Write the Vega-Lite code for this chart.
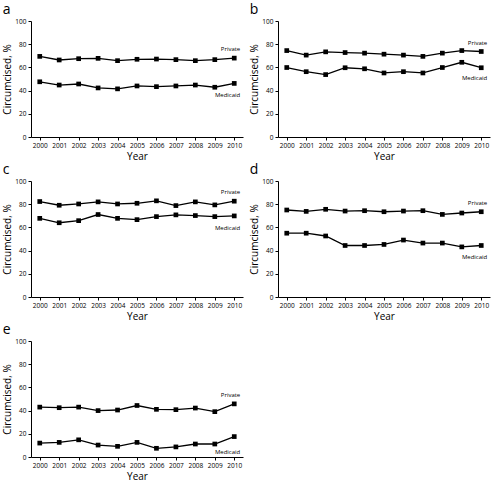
{
  "$schema": "https://vega.github.io/schema/vega-lite/v6.json",
  "padding": {"left": 2, "top": 3, "right": 2, "bottom": 1},
  "background": "white",
  "datasets": {
    "d": [
      {"panel":"a","series":"Private","year":2000,"value":69.5},
      {"panel":"a","series":"Private","year":2001,"value":66.4},
      {"panel":"a","series":"Private","year":2002,"value":67.5},
      {"panel":"a","series":"Private","year":2003,"value":67.8},
      {"panel":"a","series":"Private","year":2004,"value":65.8},
      {"panel":"a","series":"Private","year":2005,"value":67.0},
      {"panel":"a","series":"Private","year":2006,"value":67.2},
      {"panel":"a","series":"Private","year":2007,"value":66.7},
      {"panel":"a","series":"Private","year":2008,"value":65.8},
      {"panel":"a","series":"Private","year":2009,"value":66.7},
      {"panel":"a","series":"Private","year":2010,"value":68.0},
      {"panel":"a","series":"Medicaid","year":2000,"value":47.6},
      {"panel":"a","series":"Medicaid","year":2001,"value":44.8},
      {"panel":"a","series":"Medicaid","year":2002,"value":45.7},
      {"panel":"a","series":"Medicaid","year":2003,"value":42.3},
      {"panel":"a","series":"Medicaid","year":2004,"value":41.5},
      {"panel":"a","series":"Medicaid","year":2005,"value":44.0},
      {"panel":"a","series":"Medicaid","year":2006,"value":43.4},
      {"panel":"a","series":"Medicaid","year":2007,"value":44.0},
      {"panel":"a","series":"Medicaid","year":2008,"value":44.8},
      {"panel":"a","series":"Medicaid","year":2009,"value":42.9},
      {"panel":"a","series":"Medicaid","year":2010,"value":46.2},
      {"panel":"b","series":"Private","year":2000,"value":74.5},
      {"panel":"b","series":"Private","year":2001,"value":70.6},
      {"panel":"b","series":"Private","year":2002,"value":73.4},
      {"panel":"b","series":"Private","year":2003,"value":72.8},
      {"panel":"b","series":"Private","year":2004,"value":72.3},
      {"panel":"b","series":"Private","year":2005,"value":71.4},
      {"panel":"b","series":"Private","year":2006,"value":70.6},
      {"panel":"b","series":"Private","year":2007,"value":69.5},
      {"panel":"b","series":"Private","year":2008,"value":72.3},
      {"panel":"b","series":"Private","year":2009,"value":74.5},
      {"panel":"b","series":"Private","year":2010,"value":73.7},
      {"panel":"b","series":"Medicaid","year":2000,"value":59.9},
      {"panel":"b","series":"Medicaid","year":2001,"value":56.3},
      {"panel":"b","series":"Medicaid","year":2002,"value":53.8},
      {"panel":"b","series":"Medicaid","year":2003,"value":59.7},
      {"panel":"b","series":"Medicaid","year":2004,"value":58.8},
      {"panel":"b","series":"Medicaid","year":2005,"value":55.2},
      {"panel":"b","series":"Medicaid","year":2006,"value":56.3},
      {"panel":"b","series":"Medicaid","year":2007,"value":55.2},
      {"panel":"b","series":"Medicaid","year":2008,"value":59.9},
      {"panel":"b","series":"Medicaid","year":2009,"value":64.4},
      {"panel":"b","series":"Medicaid","year":2010,"value":59.7},
      {"panel":"c","series":"Private","year":2000,"value":82.3},
      {"panel":"c","series":"Private","year":2001,"value":79.1},
      {"panel":"c","series":"Private","year":2002,"value":80.2},
      {"panel":"c","series":"Private","year":2003,"value":82.0},
      {"panel":"c","series":"Private","year":2004,"value":80.2},
      {"panel":"c","series":"Private","year":2005,"value":80.8},
      {"panel":"c","series":"Private","year":2006,"value":82.9},
      {"panel":"c","series":"Private","year":2007,"value":78.8},
      {"panel":"c","series":"Private","year":2008,"value":82.0},
      {"panel":"c","series":"Private","year":2009,"value":79.4},
      {"panel":"c","series":"Private","year":2010,"value":82.6},
      {"panel":"c","series":"Medicaid","year":2000,"value":67.8},
      {"panel":"c","series":"Medicaid","year":2001,"value":64.0},
      {"panel":"c","series":"Medicaid","year":2002,"value":65.8},
      {"panel":"c","series":"Medicaid","year":2003,"value":71.1},
      {"panel":"c","series":"Medicaid","year":2004,"value":67.8},
      {"panel":"c","series":"Medicaid","year":2005,"value":66.7},
      {"panel":"c","series":"Medicaid","year":2006,"value":69.3},
      {"panel":"c","series":"Medicaid","year":2007,"value":70.8},
      {"panel":"c","series":"Medicaid","year":2008,"value":70.2},
      {"panel":"c","series":"Medicaid","year":2009,"value":69.3},
      {"panel":"c","series":"Medicaid","year":2010,"value":69.9},
      {"panel":"d","series":"Private","year":2000,"value":75.0},
      {"panel":"d","series":"Private","year":2001,"value":73.8},
      {"panel":"d","series":"Private","year":2002,"value":75.6},
      {"panel":"d","series":"Private","year":2003,"value":74.1},
      {"panel":"d","series":"Private","year":2004,"value":74.4},
      {"panel":"d","series":"Private","year":2005,"value":73.5},
      {"panel":"d","series":"Private","year":2006,"value":74.1},
      {"panel":"d","series":"Private","year":2007,"value":74.4},
      {"panel":"d","series":"Private","year":2008,"value":71.2},
      {"panel":"d","series":"Private","year":2009,"value":72.4},
      {"panel":"d","series":"Private","year":2010,"value":73.5},
      {"panel":"d","series":"Medicaid","year":2000,"value":55.0},
      {"panel":"d","series":"Medicaid","year":2001,"value":55.0},
      {"panel":"d","series":"Medicaid","year":2002,"value":52.6},
      {"panel":"d","series":"Medicaid","year":2003,"value":44.4},
      {"panel":"d","series":"Medicaid","year":2004,"value":44.4},
      {"panel":"d","series":"Medicaid","year":2005,"value":45.3},
      {"panel":"d","series":"Medicaid","year":2006,"value":49.1},
      {"panel":"d","series":"Medicaid","year":2007,"value":46.5},
      {"panel":"d","series":"Medicaid","year":2008,"value":46.5},
      {"panel":"d","series":"Medicaid","year":2009,"value":43.2},
      {"panel":"d","series":"Medicaid","year":2010,"value":44.4},
      {"panel":"e","series":"Private","year":2000,"value":43.0},
      {"panel":"e","series":"Private","year":2001,"value":42.5},
      {"panel":"e","series":"Private","year":2002,"value":43.0},
      {"panel":"e","series":"Private","year":2003,"value":40.0},
      {"panel":"e","series":"Private","year":2004,"value":40.5},
      {"panel":"e","series":"Private","year":2005,"value":44.4},
      {"panel":"e","series":"Private","year":2006,"value":41.1},
      {"panel":"e","series":"Private","year":2007,"value":40.8},
      {"panel":"e","series":"Private","year":2008,"value":42.2},
      {"panel":"e","series":"Private","year":2009,"value":39.1},
      {"panel":"e","series":"Private","year":2010,"value":45.8},
      {"panel":"e","series":"Medicaid","year":2000,"value":12.0},
      {"panel":"e","series":"Medicaid","year":2001,"value":12.6},
      {"panel":"e","series":"Medicaid","year":2002,"value":14.8},
      {"panel":"e","series":"Medicaid","year":2003,"value":10.3},
      {"panel":"e","series":"Medicaid","year":2004,"value":9.2},
      {"panel":"e","series":"Medicaid","year":2005,"value":12.6},
      {"panel":"e","series":"Medicaid","year":2006,"value":7.5},
      {"panel":"e","series":"Medicaid","year":2007,"value":8.7},
      {"panel":"e","series":"Medicaid","year":2008,"value":11.2},
      {"panel":"e","series":"Medicaid","year":2009,"value":11.2},
      {"panel":"e","series":"Medicaid","year":2010,"value":17.6}
    ]
  },
  "data": {"name": "d"},
  "columns": 2,
  "spacing": {"row": 1, "column": 6},
  "concat": [
    {
      "title": "a", "width": 212, "height": 116,
      "transform": [{"filter": "datum.panel === 'a'"}],
      "encoding": {
        "x": {"field": "year", "type": "ordinal", "title": "Year", "scale": {"padding": 0.45}},
        "y": {"field": "value", "type": "quantitative", "title": "Circumcised, %", "scale": {"domain": [0, 100]}, "axis": {"values": [0, 20, 40, 60, 80, 100]}}
      },
      "layer": [
        {"mark": {"type": "line", "color": "black", "strokeWidth": 1.3}, "encoding": {"detail": {"field": "series"}}},
        {"mark": {"type": "square", "color": "black", "size": 22, "opacity": 1, "filled": true}},
        {"transform": [{"filter": "datum.year === 2010 && datum.series === 'Private'"}], "mark": {"type": "text", "align": "right", "dx": 6, "dy": -9, "fontSize": 6, "font": "Open Sans"}, "encoding": {"text": {"field": "series"}}},
        {"transform": [{"filter": "datum.year === 2010 && datum.series === 'Medicaid'"}], "mark": {"type": "text", "align": "right", "dx": 6, "dy": 12, "fontSize": 6, "font": "Open Sans"}, "encoding": {"text": {"field": "series"}}}
      ]
    },
    {
      "title": "b", "width": 212, "height": 116,
      "transform": [{"filter": "datum.panel === 'b'"}],
      "encoding": {
        "x": {"field": "year", "type": "ordinal", "title": "Year", "scale": {"padding": 0.45}},
        "y": {"field": "value", "type": "quantitative", "title": "Circumcised, %", "scale": {"domain": [0, 100]}, "axis": {"values": [0, 20, 40, 60, 80, 100]}}
      },
      "layer": [
        {"mark": {"type": "line", "color": "black", "strokeWidth": 1.3}, "encoding": {"detail": {"field": "series"}}},
        {"mark": {"type": "square", "color": "black", "size": 22, "opacity": 1, "filled": true}},
        {"transform": [{"filter": "datum.year === 2010 && datum.series === 'Private'"}], "mark": {"type": "text", "align": "right", "dx": 6, "dy": -9, "fontSize": 6, "font": "Open Sans"}, "encoding": {"text": {"field": "series"}}},
        {"transform": [{"filter": "datum.year === 2010 && datum.series === 'Medicaid'"}], "mark": {"type": "text", "align": "right", "dx": 6, "dy": 10, "fontSize": 6, "font": "Open Sans"}, "encoding": {"text": {"field": "series"}}}
      ]
    },
    {
      "title": "c", "width": 212, "height": 116,
      "transform": [{"filter": "datum.panel === 'c'"}],
      "encoding": {
        "x": {"field": "year", "type": "ordinal", "title": "Year", "scale": {"padding": 0.45}},
        "y": {"field": "value", "type": "quantitative", "title": "Circumcised, %", "scale": {"domain": [0, 100]}, "axis": {"values": [0, 20, 40, 60, 80, 100]}}
      },
      "layer": [
        {"mark": {"type": "line", "color": "black", "strokeWidth": 1.3}, "encoding": {"detail": {"field": "series"}}},
        {"mark": {"type": "square", "color": "black", "size": 22, "opacity": 1, "filled": true}},
        {"transform": [{"filter": "datum.year === 2010 && datum.series === 'Private'"}], "mark": {"type": "text", "align": "right", "dx": 6, "dy": -9, "fontSize": 6, "font": "Open Sans"}, "encoding": {"text": {"field": "series"}}},
        {"transform": [{"filter": "datum.year === 2010 && datum.series === 'Medicaid'"}], "mark": {"type": "text", "align": "right", "dx": 6, "dy": 12, "fontSize": 6, "font": "Open Sans"}, "encoding": {"text": {"field": "series"}}}
      ]
    },
    {
      "title": "d", "width": 212, "height": 116,
      "transform": [{"filter": "datum.panel === 'd'"}],
      "encoding": {
        "x": {"field": "year", "type": "ordinal", "title": "Year", "scale": {"padding": 0.45}},
        "y": {"field": "value", "type": "quantitative", "title": "Circumcised, %", "scale": {"domain": [0, 100]}, "axis": {"values": [0, 20, 40, 60, 80, 100]}}
      },
      "layer": [
        {"mark": {"type": "line", "color": "black", "strokeWidth": 1.3}, "encoding": {"detail": {"field": "series"}}},
        {"mark": {"type": "square", "color": "black", "size": 22, "opacity": 1, "filled": true}},
        {"transform": [{"filter": "datum.year === 2010 && datum.series === 'Private'"}], "mark": {"type": "text", "align": "right", "dx": 6, "dy": -9, "fontSize": 6, "font": "Open Sans"}, "encoding": {"text": {"field": "series"}}},
        {"transform": [{"filter": "datum.year === 2010 && datum.series === 'Medicaid'"}], "mark": {"type": "text", "align": "right", "dx": 6, "dy": 12, "fontSize": 6, "font": "Open Sans"}, "encoding": {"text": {"field": "series"}}}
      ]
    },
    {
      "title": "e", "width": 212, "height": 116,
      "transform": [{"filter": "datum.panel === 'e'"}],
      "encoding": {
        "x": {"field": "year", "type": "ordinal", "title": "Year", "scale": {"padding": 0.45}},
        "y": {"field": "value", "type": "quantitative", "title": "Circumcised, %", "scale": {"domain": [0, 100]}, "axis": {"values": [0, 20, 40, 60, 80, 100]}}
      },
      "layer": [
        {"mark": {"type": "line", "color": "black", "strokeWidth": 1.3}, "encoding": {"detail": {"field": "series"}}},
        {"mark": {"type": "square", "color": "black", "size": 22, "opacity": 1, "filled": true}},
        {"transform": [{"filter": "datum.year === 2010 && datum.series === 'Private'"}], "mark": {"type": "text", "align": "right", "dx": 6, "dy": -9, "fontSize": 6, "font": "Open Sans"}, "encoding": {"text": {"field": "series"}}},
        {"transform": [{"filter": "datum.year === 2010 && datum.series === 'Medicaid'"}], "mark": {"type": "text", "align": "right", "dx": 6, "dy": 15, "fontSize": 6, "font": "Open Sans"}, "encoding": {"text": {"field": "series"}}}
      ]
    }
  ],
  "config": {
    "view": {"stroke": null},
    "font": "Open Sans",
    "title": {"fontSize": 14, "fontWeight": "normal", "font": "Open Sans", "anchor": "start", "frame": "bounds", "offset": 1, "color": "black"},
    "axis": {
      "grid": false,
      "domainColor": "black",
      "tickColor": "black",
      "labelColor": "black",
      "titleColor": "black",
      "labelFont": "Open Sans",
      "titleFont": "Open Sans",
      "labelFontSize": 6.5,
      "titleFontSize": 10,
      "titleFontWeight": "normal",
      "tickSize": 3,
      "labelPadding": 2,
      "titlePadding": 2,
      "domainWidth": 1,
      "tickWidth": 1
    },
    "axisX": {"labelAngle": 0, "titlePadding": 3}
  }
}
